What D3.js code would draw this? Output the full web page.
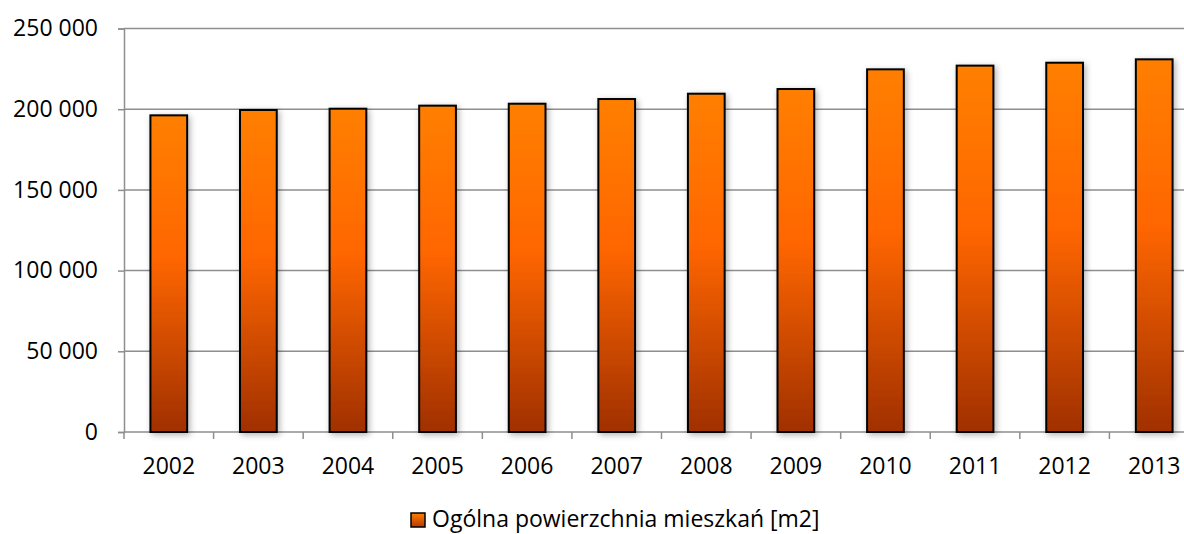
<!DOCTYPE html>
<html>
<head>
<meta charset="utf-8">
<script src="https://cdn.jsdelivr.net/npm/d3@7"></script>
<style>
  html, body { margin: 0; padding: 0; background: #fff; }
  svg { display: block; font-family: "Open Sans", sans-serif; }
</style>
</head>
<body>
<svg id="chart" width="1184" height="534"></svg>
<script>
const years = ["2002", "2003", "2004", "2005", "2006", "2007", "2008", "2009", "2010", "2011", "2012", "2013"]
const area = [196200, 199500, 200300, 202200, 203400, 206300, 209600, 212500, 224700, 227000, 228800, 230900]
const yTicks = [0, 50000, 100000, 150000, 200000, 250000]
const seriesName = "Ogólna powierzchnia mieszkań [m2]"

const svg = d3.select("#chart")
const width = 1184
const plotLeft = 124, plotRight = 1199, plotTop = 28.5, plotBottom = 432

const pl = d3.formatLocale({ decimal: ",", thousands: " ", grouping: [3], currency: ["", " zł"] })
const fmt = pl.format(",d")

// scales
const x = d3.scaleBand().domain(years).range([plotLeft, plotRight]).paddingInner(0.59).paddingOuter(0.295)
const y = d3.scaleLinear().domain([0, 250000]).range([plotBottom, plotTop])

const defs = svg.append("defs")
const grad = defs.append("linearGradient").attr("id", "barGrad")
  .attr("x1", 0).attr("y1", 0).attr("x2", 0).attr("y2", 1)
grad.append("stop").attr("offset", "0%").attr("stop-color", "#ff7f00")
grad.append("stop").attr("offset", "45%").attr("stop-color", "#ff6600")
grad.append("stop").attr("offset", "100%").attr("stop-color", "#a03000")

const legGrad = defs.append("linearGradient").attr("id", "legGrad")
  .attr("x1", 0).attr("y1", 0).attr("x2", 0).attr("y2", 1)
legGrad.append("stop").attr("offset", "0%").attr("stop-color", "#ff7f00")
legGrad.append("stop").attr("offset", "100%").attr("stop-color", "#b83a00")

const shadow = defs.append("filter").attr("id", "shadow")
  .attr("x", "-30%").attr("y", "-5%").attr("width", "160%").attr("height", "110%")
shadow.append("feDropShadow").attr("dx", 2).attr("dy", 2).attr("stdDeviation", 3)
  .attr("flood-color", "#000").attr("flood-opacity", 0.3)

// grid lines
svg.append("g")
  .selectAll("line")
  .data(yTicks)
  .join("line")
  .attr("x1", plotLeft).attr("x2", width)
  .attr("y1", d => y(d)).attr("y2", d => y(d))
  .attr("stroke", "#8e8e8e")
  .attr("stroke-width", 1.5)

// y axis
const yAxis = svg.append("g")
  .attr("transform", `translate(${plotLeft},0)`)
  .call(d3.axisLeft(y).tickValues(yTicks).tickSize(6).tickPadding(20).tickFormat(fmt))
yAxis.select(".domain").attr("stroke", "#8e8e8e").attr("stroke-width", 1.5)
yAxis.selectAll(".tick line").attr("stroke", "#8e8e8e").attr("stroke-width", 1.5)
yAxis.selectAll("text").attr("font-size", 23).attr("fill", "#000")
  .attr("font-family", "Open Sans, sans-serif")

// x axis ticks at category boundaries
const bounds = d3.range(years.length + 1).map(i => plotLeft + i * x.step())
svg.append("g")
  .selectAll("line")
  .data(bounds)
  .join("line")
  .attr("x1", d => d).attr("x2", d => d)
  .attr("y1", plotBottom).attr("y2", plotBottom + 7)
  .attr("stroke", "#8e8e8e")
  .attr("stroke-width", 1.5)

svg.append("g")
  .selectAll("text")
  .data(years)
  .join("text")
  .attr("x", d => x(d) + x.bandwidth() / 2)
  .attr("y", 474)
  .attr("text-anchor", "middle")
  .attr("font-size", 23)
  .attr("fill", "#000")
  .text(d => d)

// bars
svg.append("g")
  .selectAll("rect")
  .data(area)
  .join("rect")
  .attr("x", (d, i) => x(years[i]))
  .attr("y", d => y(d))
  .attr("width", x.bandwidth())
  .attr("height", d => y(0) - y(d))
  .attr("fill", "url(#barGrad)")
  .attr("stroke", "#000")
  .attr("stroke-width", 2)
  .attr("filter", "url(#shadow)")

// legend
const leg = svg.append("g")
leg.append("rect")
  .attr("x", 411).attr("y", 513).attr("width", 14).attr("height", 14)
  .attr("fill", "url(#legGrad)")
  .attr("stroke", "#000").attr("stroke-width", 1.5)
leg.append("text")
  .attr("x", 432).attr("y", 527)
  .attr("font-size", 23)
  .attr("fill", "#000")
  .text(seriesName)
</script>
</body>
</html>
